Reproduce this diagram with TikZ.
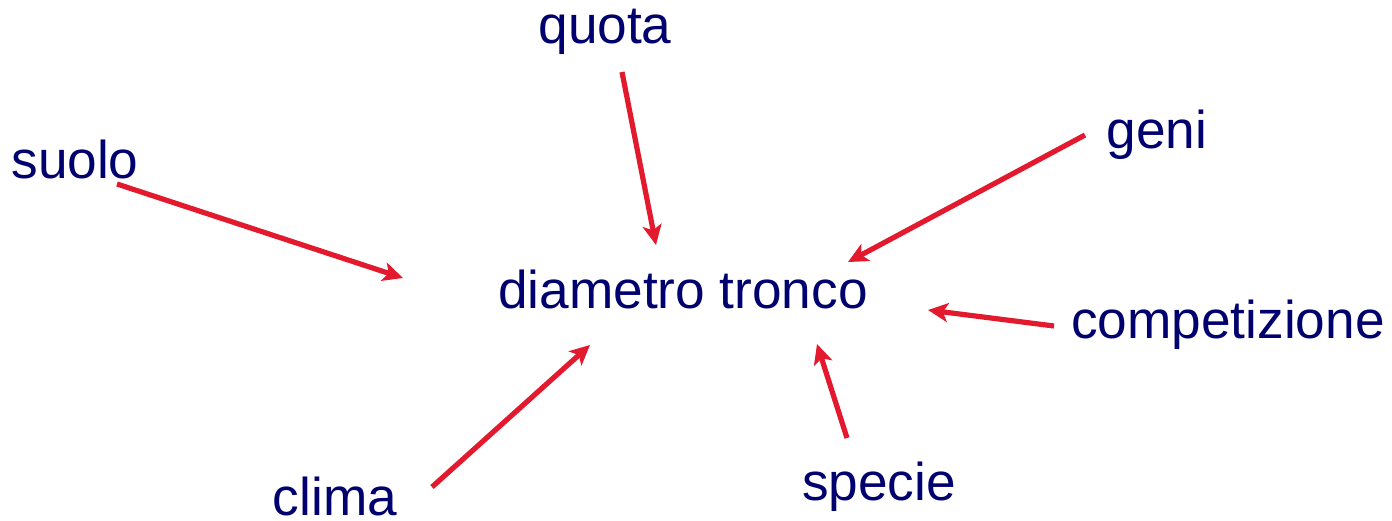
\documentclass[tikz,border=0pt]{standalone}
\usepackage{fontspec}
\setmainfont{Liberation Sans}
\usetikzlibrary{arrows.meta}
\definecolor{navytext}{RGB}{0,0,110}
\definecolor{arrred}{RGB}{227,25,45}
\begin{document}
\begin{tikzpicture}[x=0.5pt,y=-0.5pt,
  lbl/.style={anchor=base,text=navytext,inner sep=0pt,font=\fontsize{26.6}{30}\selectfont},
  conn/.style={draw=arrred,line width=2.6pt,-{Stealth[length=10pt,width=9.5pt,inset=2.5pt]}}]
\useasboundingbox (0,0) rectangle (1392,520);
\node[lbl] (quota) at (605,43) {quota};
\node[lbl] (suolo) at (75,178) {suolo};
\node[lbl] (geni) at (1157,148) {geni};
\node[lbl] (diam) at (683,308) {diametro tronco};
\node[lbl] (comp) at (1228,338) {competizione};
\node[lbl] (clima) at (335,515) {clima};
\node[lbl] (specie) at (879,500) {specie};
\coordinate (qT) at (622,72);   \coordinate (qH) at (656,245);
\coordinate (sT) at (117,184);  \coordinate (sH) at (403,278);
\coordinate (gT) at (1085,135); \coordinate (gH) at (848,262);
\coordinate (cT) at (1054,326); \coordinate (cH) at (928,310);
\coordinate (spT) at (847,438); \coordinate (spH) at (817,344);
\coordinate (clT) at (432,487); \coordinate (clH) at (590,345);
\draw[conn] (qT) -- (qH);
\draw[conn] (sT) -- (sH);
\draw[conn] (gT) -- (gH);
\draw[conn] (cT) -- (cH);
\draw[conn] (spT) -- (spH);
\draw[conn] (clT) -- (clH);
\end{tikzpicture}
\end{document}
